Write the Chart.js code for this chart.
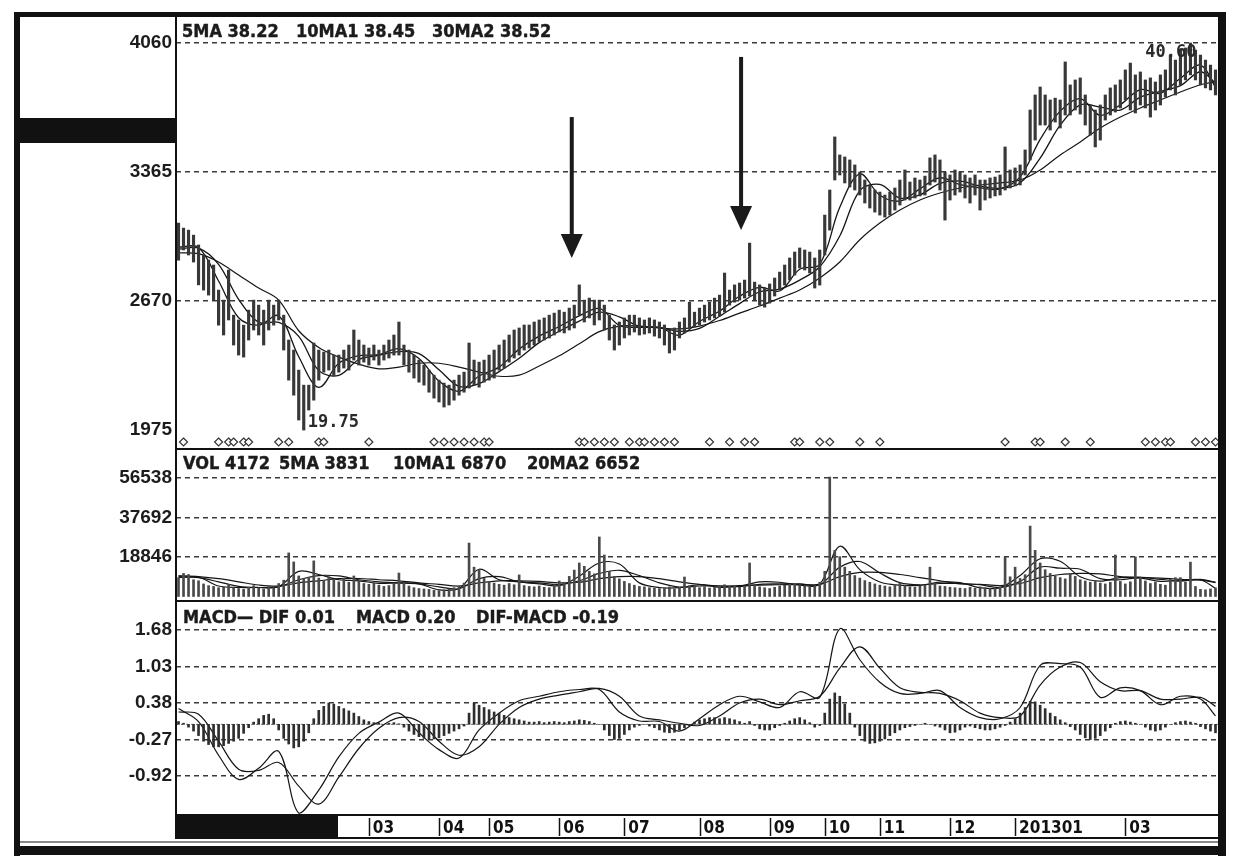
<!DOCTYPE html>
<html>
<head>
<meta charset="utf-8">
<script src="https://cdn.jsdelivr.net/npm/chart.js@4.4.1/dist/chart.umd.min.js"></script>
<style>
  body { margin: 0; background: #fff; }
  #page { position: relative; width: 1240px; height: 864px; overflow: hidden; background: #fff; }
  canvas { position: absolute; }
  .blk { position: absolute; background: #111; }
  .hd { position: absolute; font: bold 18px "DejaVu Sans Condensed", "Liberation Sans Narrow", sans-serif;
        color: #1b1b1b; white-space: nowrap; line-height: 18px; -webkit-text-stroke: 0.4px #1b1b1b; }
</style>
</head>
<body>
<div id="page">
  <canvas id="priceChart" width="1198" height="432" style="left:20px;top:17px"></canvas>
  <canvas id="volChart" width="1198" height="152" style="left:20px;top:449px"></canvas>
  <canvas id="macdChart" width="1198" height="237" style="left:20px;top:601px"></canvas>

  <!-- frame -->
  <div class="blk" style="left:14px;top:12px;width:6px;height:844px"></div>
  <div class="blk" style="left:14px;top:12px;width:1212px;height:5px"></div>
  <div class="blk" style="left:1218px;top:12px;width:8px;height:844px"></div>
  <div class="blk" style="left:14px;top:846px;width:1212px;height:9px"></div>
  <div class="blk" style="left:20px;top:841px;width:1198px;height:2px;background:#888"></div>
  <div class="blk" style="left:20px;top:118px;width:156px;height:25px"></div>
  <div class="blk" style="left:175px;top:17px;width:2px;height:822px"></div>
  <div class="blk" style="left:176px;top:448px;width:1042px;height:2px"></div>
  <div class="blk" style="left:176px;top:600px;width:1042px;height:2px"></div>
  <div class="blk" style="left:176px;top:814px;width:1042px;height:2px"></div>
  <div class="blk" style="left:176px;top:837px;width:1042px;height:2px"></div>
  <div class="blk" style="left:176px;top:815px;width:162px;height:23px"></div>

  <div class="hd" style="left:182px;top:22px">5MA 38.22</div>
  <div class="hd" style="left:296px;top:22px">10MA1 38.45</div>
  <div class="hd" style="left:432px;top:22px">30MA2 38.52</div>

  <div class="hd" style="left:183px;top:454px">VOL 4172</div>
  <div class="hd" style="left:279px;top:454px">5MA 3831</div>
  <div class="hd" style="left:393px;top:454px">10MA1 6870</div>
  <div class="hd" style="left:527px;top:454px">20MA2 6652</div>

  <div class="hd" style="left:183px;top:608px">MACD— DIF 0.01</div>
  <div class="hd" style="left:356px;top:608px">MACD 0.20</div>
  <div class="hd" style="left:476px;top:608px">DIF-MACD -0.19</div>
</div>

<script>
// daily bars, price x100
var highs = [3090,3063,3052,3025,2972,2918,2891,2864,2729,2675,
  2837,2594,2568,2540,2621,2675,2648,2621,2675,2648,
  2675,2594,2460,2406,2298,2217,2217,2444,2406,2395,
  2406,2379,2379,2406,2433,2514,2460,2433,2417,2433,
  2406,2433,2460,2487,2557,2433,2406,2379,2352,2325,
  2298,2271,2244,2228,2217,2244,2271,2287,2444,2352,
  2341,2352,2379,2406,2433,2460,2487,2514,2525,2541,
  2541,2557,2568,2579,2594,2605,2621,2610,2632,2648,
  2757,2675,2686,2675,2675,2648,2594,2541,2557,2579,
  2594,2594,2579,2568,2579,2568,2557,2541,2514,2525,
  2557,2579,2664,2610,2632,2648,2664,2686,2702,2821,
  2729,2757,2767,2783,2982,2772,2757,2740,2762,2794,
  2826,2864,2902,2934,2956,2945,2934,2902,2945,3133,
  3268,3554,3457,3446,3430,3403,3365,3322,3295,3268,
  3257,3241,3257,3279,3322,3376,3311,3333,3322,3343,
  3441,3457,3430,3365,3349,3376,3365,3349,3333,3349,
  3322,3322,3333,3338,3349,3500,3376,3387,3403,3484,
  3699,3780,3823,3780,3753,3763,3753,3958,3834,3861,
  3872,3780,3726,3699,3726,3780,3818,3834,3861,3915,
  3952,3888,3904,3861,3872,3850,3888,3915,3995,3968,
  4022,4033,4060,4022,3995,3968,3941,3915];
var lows = [2890,2945,2918,2880,2757,2729,2702,2675,2540,2487,
  2568,2433,2379,2368,2460,2514,2487,2433,2514,2540,
  2568,2406,2244,2163,2029,1975,2083,2136,2244,2287,
  2298,2271,2287,2309,2298,2352,2325,2341,2325,2352,
  2325,2352,2363,2379,2379,2325,2287,2255,2233,2217,
  2179,2147,2126,2099,2110,2136,2163,2179,2201,2217,
  2206,2233,2244,2255,2298,2309,2341,2363,2379,2406,
  2417,2433,2449,2460,2471,2487,2503,2498,2514,2525,
  2594,2557,2579,2541,2568,2514,2460,2406,2433,2471,
  2487,2503,2487,2492,2498,2481,2471,2433,2390,2406,
  2471,2498,2525,2530,2541,2557,2568,2579,2589,2610,
  2648,2664,2675,2686,2697,2675,2648,2637,2659,2697,
  2729,2756,2783,2810,2848,2837,2821,2740,2756,2918,
  3052,3322,3349,3306,3284,3268,3241,3198,3171,3149,
  3133,3122,3133,3160,3187,3214,3214,3225,3236,3241,
  3295,3311,3268,3106,3214,3241,3257,3225,3198,3241,
  3160,3214,3225,3236,3241,3268,3279,3290,3295,3349,
  3430,3537,3618,3618,3591,3634,3602,3672,3672,3699,
  3677,3618,3564,3500,3537,3645,3672,3688,3710,3753,
  3699,3683,3726,3710,3661,3699,3726,3769,3807,3780,
  3834,3861,3888,3861,3834,3818,3807,3780];
var volumes = [9000,11000,10500,8000,7500,6000,5200,4800,4200,4500,
  5800,4200,3800,3500,4400,5200,4000,3600,4800,4100,
  6200,7800,20800,16500,9800,8500,9200,17000,8800,7600,
  9400,8200,7000,8600,6800,9800,7400,6200,5800,6600,
  5400,4800,5200,6000,11200,6400,5000,4200,3800,3600,
  3400,3000,2800,3200,3600,4200,5000,6400,25500,14000,
  12600,8600,7200,6400,5800,5400,6200,5600,10300,5200,
  4800,4600,5000,4400,4200,5600,7400,6800,9600,12600,
  16000,14400,12000,10800,28400,19800,12000,9600,8400,7200,
  6200,5400,4800,4600,4200,4000,3800,4200,4600,3600,
  4400,9300,5200,4800,4200,4600,4000,4400,5000,5600,
  4800,5200,4400,5000,16000,5600,4600,4200,3800,4400,
  5000,5400,5800,6200,5600,5000,4600,5200,6800,12000,
  57000,22000,19000,14000,12000,10000,8800,7600,6800,6000,
  5400,5000,4600,5800,6400,5200,4600,4400,5000,5400,
  14000,6200,5000,4800,4400,4200,4000,3800,4400,4000,
  4600,4200,3800,4000,4600,18800,9400,14000,8600,10400,
  33600,22000,16000,12800,11000,9800,9000,8400,10800,9600,
  8000,7400,6800,7600,6400,6000,6800,19800,7200,6000,
  7000,18900,9000,7400,6200,6800,5800,5400,8200,9000,
  9000,6800,16400,4800,3400,3200,3600,4172];
var macdHist = [0.05,0.02,-0.05,-0.12,
  -0.2,-0.3,-0.36,-0.4,-0.4,-0.38,-0.34,-0.3,-0.25,-0.16,
  -0.06,0.04, 0.1,0.16,0.18,0.1,
  -0.1,-0.25,-0.35,-0.42,-0.4,-0.3,-0.15,
  0.1,0.25,0.32,0.38,0.36,0.32,0.28,0.24,0.2,0.14,0.08,
  0.05,0.03,0.02,0,0.02,0.03,0.01,
  -0.05,-0.12,-0.18,-0.22,-0.25,-0.27,-0.26,-0.24,-0.2,-0.16,-0.12,-0.08,-0.03,
  0.2,0.38,0.34,0.3,0.26,0.22,0.2,0.16,0.12,0.1,0.08,0.06,0.04,
  0.04,0.05,0.03,0.04,0.05,0.04,0.03,0.05,0.06,0.08,0.07,0.05,0.02,0,
  -0.1,-0.2,-0.27,-0.25,-0.18,-0.1,
  -0.05,-0.02,0,-0.03,-0.06,
  -0.1,-0.14,-0.15,-0.14,-0.1,-0.06,-0.02,
  0.04,0.08,0.1,0.12,0.12,0.1,0.12,0.1,0.08,0.05,0.02,
  0.05,-0.02,-0.08,-0.1,-0.1,-0.06,-0.02,
  0.02,0.06,0.1,0.12,0.08,0.03,
  -0.05,-0.02,
  0.2,0.45,0.56,0.5,0.36,0.2,
  -0.05,-0.2,-0.3,-0.34,-0.33,-0.3,-0.26,-0.2,-0.15,-0.1,-0.06,
  -0.04,-0.02,0,0.02,0,-0.03,-0.05,
  -0.1,-0.15,-0.14,-0.1,-0.05,
  -0.03,-0.06,-0.08,
  -0.1,-0.1,-0.08,-0.05,-0.02,
  0.04,0.1,0.2,0.3,0.41,0.4,0.34,0.28,0.2,0.14,0.08,0.03,
  -0.04,-0.1,-0.18,-0.24,-0.27,-0.25,-0.2,-0.12,-0.06,
  0.02,0.05,0.06,0.04,0.02,0,
  -0.05,-0.1,-0.12,-0.1,-0.05,
  0,0.03,0.05,0.06,0.04,0.02,
  -0.04,-0.08,-0.12,-0.15];

// indicator lines, read every 4th bar
var maIdx = [0,4,8,12,16,20,24,28,32,36,40,44,48,52,56,60,64,68,72,76,80,84,88,92,96,100,
  104,108,112,116,120,124,128,132,136,140,144,148,152,156,160,164,168,172,176,180,184,188,192,196,200,204,207];
var ma5 = [2960,2959,2778,2580,2540,2590,2370,2205,2335,2376,2381,2414,2360,2239,2184,2266,2314,2411,2481,2533,
  2590,2630,2539,2528,2528,2486,2560,2616,2696,2744,2724,2841,2868,3175,3355,3240,3209,3274,3334,3297,
  3280,3274,3339,3541,3693,3760,3670,3727,3809,3789,3870,3941,3822];
var ma10 = [2950,2955,2868,2679,2555,2555,2480,2295,2270,2355,2378,2398,2387,2300,2210,2225,2290,2362,2446,2507,
  2562,2610,2585,2533,2528,2507,2523,2588,2656,2720,2734,2783,2855,3020,3265,3298,3225,3242,3304,3316,
  3289,3277,3306,3440,3617,3727,3715,3699,3768,3799,3830,3905,3845];
var ma30 = [2930,2925,2880,2810,2740,2675,2510,2420,2368,2330,2305,2314,2335,2335,2314,2287,2265,2271,2320,2375,
  2440,2505,2535,2535,2525,2520,2535,2565,2605,2643,2686,2729,2794,2880,3000,3090,3160,3214,3252,3279,
  3295,3306,3322,3376,3457,3527,3602,3661,3710,3753,3796,3835,3852];
var volMa5 = [9000,9200,5000,4300,4300,4700,12000,10500,8000,7500,6300,6500,6000,3200,3800,13000,8000,7000,6000,5200,
  9700,16000,15500,6500,4300,4200,5600,4400,4900,7000,6800,5400,6000,24000,12800,6900,5400,5300,6900,6600,
  4200,4200,10000,18000,16800,9400,7300,9000,8800,7200,7600,8000,3831];
var volMa10 = [9500,9000,7000,4800,4300,4600,8000,10000,9800,8000,7000,6500,6000,4600,3700,8500,9500,7000,6500,5700,
  7500,11000,12500,10000,6500,4500,5000,5000,4700,5800,6000,6000,5600,14000,16700,11200,6600,5500,6200,6200,
  5600,4300,7200,14000,13500,13000,8500,8000,9000,8200,7400,8200,6870];
var volMa20 = [10000,9500,8500,7000,5500,5000,6500,7500,8500,8600,8000,7500,6500,5800,5000,6500,7500,7500,7200,6500,
  6800,8500,9500,9500,8500,7000,5800,5000,5200,5400,5600,5800,5800,9500,11500,11500,10500,9000,7500,6000,
  5800,5200,6200,9000,10500,11000,10800,9500,9200,8800,8200,7800,6652];
var dif = [0.28,0.05,-0.55,-0.98,-0.78,-0.48,-1.58,-1.17,-0.58,-0.16,0.04,0.2,-0.15,-0.45,-0.6,-0.1,0.2,0.42,0.5,0.58,
  0.62,0.62,0.22,0.06,0.05,-0.12,0.1,0.35,0.5,0.4,0.3,0.58,0.48,1.7,1.15,0.75,0.55,0.55,0.6,0.3,
  0.12,0.1,0.3,1.05,1.08,1.02,0.48,0.65,0.6,0.35,0.5,0.45,0.15];
var dea = [0.22,0.18,-0.3,-0.8,-0.82,-0.68,-1.1,-1.42,-0.94,-0.43,-0.07,0.12,0.05,-0.3,-0.55,-0.4,0,0.3,0.45,0.52,
  0.58,0.64,0.5,0.15,0.08,0.02,-0.02,0.15,0.38,0.45,0.35,0.42,0.5,1.0,1.38,1.0,0.65,0.57,0.55,0.42,
  0.2,0.12,0.15,0.7,1.02,1.1,0.76,0.6,0.6,0.45,0.45,0.48,0.32];

// axes
var priceTicks = [1975, 2670, 3365, 4060];
var volTicks = [18846, 37692, 56538];
var macdTicks = [-0.92, -0.27, 0.38, 1.03, 1.68];
var monthIdx = [38,52,62,76,89,104,118,129,140,154,167,189];
var monthLabels = ['03','04','05','06','07','08','09','10','11','12','201301','03'];

// signal diamonds and the two arrows
var signals = [1,8,10,11,13,14,20,22,28,29,38,51,53,55,57,59,61,62,80,81,83,85,87,90,92,93,95,97,99,
  106,110,113,115,123,124,128,130,136,140,165,171,172,177,182,193,195,197,198,203,205,207];
var arrowAt = [78.5, 112.3];
var arrowFrom = [3661, 3985];
var arrowTo = [2902, 3052];

var axisFont = { family: '"Liberation Sans", Arial, sans-serif', size: 19, weight: 'bold' };

var line = function(values, width){
  return {
    type: 'line',
    data: maIdx.map(function(x, k){ return { x: x, y: values[k] }; }),
    borderColor: '#151515',
    borderWidth: width || 1.3,
    pointRadius: 0,
    tension: 0.35
  };
};

var xHidden = function(){
  return { type: 'linear', min: -0.5, max: highs.length - 0.5, display: false, offset: false, bounds: 'data', grace: 0 };
};

var paneOptions = function(min, max, ticks, fmt, gridFor){
  return {
    responsive: false,
    animation: false,
    events: [],
    devicePixelRatio: 1,
    layout: { padding: 0, autoPadding: false },
    plugins: { legend: { display: false }, tooltip: { enabled: false } },
    scales: {
      x: xHidden(),
      y: {
        min: min, max: max, grace: 0,
        afterBuildTicks: function(s){ s.ticks = ticks.map(function(v){ return { value: v }; }); },
        afterFit: function(s){ s.width = 156; s.paddingTop = 0; s.paddingBottom = 0; },
        ticks: { font: axisFont, color: '#1c1c1c', padding: 4, callback: fmt },
        grid: {
          drawTicks: false, lineWidth: 1.5,
          color: function(c){ return gridFor(c.tick && c.tick.value) ? '#3a3a3a' : 'rgba(0,0,0,0)'; }
        },
        border: { display: false, dash: [5, 4] }
      }
    }
  };
};

var priceMarks = {
  id: 'priceMarks',
  afterDatasetsDraw: function(chart){
    var ctx = chart.ctx, x = chart.scales.x, y = chart.scales.y;
    ctx.save();
    ctx.fillStyle = '#1a1a1a';
    for (var k = 0; k < arrowAt.length; k++) {
      var px = x.getPixelForValue(arrowAt[k]);
      var top = y.getPixelForValue(arrowFrom[k]);
      var tip = y.getPixelForValue(arrowTo[k]);
      ctx.fillRect(px - 2, top, 4, tip - top - 20);
      ctx.beginPath();
      ctx.moveTo(px - 11, tip - 24); ctx.lineTo(px + 11, tip - 24); ctx.lineTo(px, tip);
      ctx.closePath(); ctx.fill();
    }
    var dy = chart.chartArea.bottom - 7;
    ctx.lineWidth = 1.2; ctx.strokeStyle = '#333'; ctx.fillStyle = '#fff';
    signals.forEach(function(i){
      var sx = x.getPixelForValue(i);
      ctx.beginPath();
      ctx.moveTo(sx, dy - 4); ctx.lineTo(sx + 4, dy); ctx.lineTo(sx, dy + 4); ctx.lineTo(sx - 4, dy);
      ctx.closePath(); ctx.fill(); ctx.stroke();
    });
    var lo = Math.min.apply(null, lows), hi = Math.max.apply(null, highs);
    var iLo = lows.indexOf(lo), iHi = highs.indexOf(hi);
    ctx.font = 'bold 17px "DejaVu Sans Mono", monospace';
    ctx.fillStyle = '#2a2a2a';
    ctx.textAlign = 'left'; ctx.textBaseline = 'bottom';
    ctx.fillText((lo / 100).toFixed(2), x.getPixelForValue(iLo) + 4, y.getPixelForValue(lo) + 1);
    ctx.textAlign = 'right'; ctx.textBaseline = 'top';
    ctx.fillText((hi / 100).toFixed(2), x.getPixelForValue(iHi) + 6, y.getPixelForValue(hi) + 1);
    ctx.restore();
  }
};

var macdMarks = {
  id: 'macdMarks',
  beforeDatasetsDraw: function(chart){
    var ctx = chart.ctx, a = chart.chartArea, y0 = chart.scales.y.getPixelForValue(0);
    ctx.save();
    ctx.strokeStyle = '#777'; ctx.lineWidth = 1; ctx.setLineDash([2, 3]);
    ctx.beginPath(); ctx.moveTo(a.left, y0); ctx.lineTo(a.right, y0); ctx.stroke();
    ctx.restore();
  },
  afterDraw: function(chart){
    var ctx = chart.ctx, x = chart.scales.x, b = chart.chartArea.bottom;
    ctx.save();
    ctx.strokeStyle = '#111'; ctx.lineWidth = 1.5;
    x.ticks.forEach(function(t){
      var px = Math.round(x.getPixelForValue(t.value)) + 0.5;
      ctx.beginPath(); ctx.moveTo(px, b + 3); ctx.lineTo(px, b + 21); ctx.stroke();
    });
    ctx.restore();
  }
};

new Chart(document.getElementById('priceChart'), {
  type: 'bar',
  data: {
    datasets: [
      {
        type: 'bar',
        data: highs.map(function(h, i){ return { x: i, y: [lows[i], h] }; }),
        backgroundColor: '#383838',
        barThickness: 2.5
      },
      line(ma5), line(ma10), line(ma30, 1.2)
    ]
  },
  options: paneOptions(1873, 4200, priceTicks, function(v){ return String(v); },
    function(v){ return v !== 1975; }),
  plugins: [priceMarks]
});

new Chart(document.getElementById('volChart'), {
  type: 'bar',
  data: {
    datasets: [
      {
        type: 'bar',
        data: volumes.map(function(v, i){ return { x: i, y: v }; }),
        backgroundColor: '#4a4a4a',
        barThickness: 2
      },
      line(volMa5, 1.2), line(volMa10, 1.2), line(volMa20, 1.2)
    ]
  },
  options: paneOptions(-2147, 70374, volTicks, function(v){ return String(v); },
    function(){ return true; })
});

var macdOpts = paneOptions(-1.614, 2.196, macdTicks, function(v){ return v.toFixed(2); },
  function(){ return true; });
macdOpts.scales.x = {
  type: 'linear', min: -0.5, max: highs.length - 0.5, display: true, position: 'bottom',
  offset: false, bounds: 'data', grace: 0,
  afterBuildTicks: function(s){ s.ticks = monthIdx.map(function(v){ return { value: v }; }); },
  afterFit: function(s){ s.height = 23; s.paddingLeft = 0; s.paddingRight = 0; },
  grid: { drawOnChartArea: false, drawTicks: false },
  border: { display: false },
  ticks: {
    autoSkip: false, maxRotation: 0, minRotation: 0, align: 'start', labelOffset: 4, padding: 3,
    color: '#111',
    font: { family: '"Liberation Sans Narrow", "DejaVu Sans Condensed", sans-serif', size: 17, weight: 'bold' },
    callback: function(v, idx){ return monthLabels[idx]; }
  }
};
new Chart(document.getElementById('macdChart'), {
  type: 'bar',
  data: {
    datasets: [
      {
        type: 'bar',
        data: macdHist.map(function(v, i){ return { x: i, y: v }; }),
        backgroundColor: '#2e2e2e',
        barThickness: 2
      },
      line(dif, 1.2), line(dea, 1.2)
    ]
  },
  options: macdOpts,
  plugins: [macdMarks]
});
</script>
</body>
</html>
